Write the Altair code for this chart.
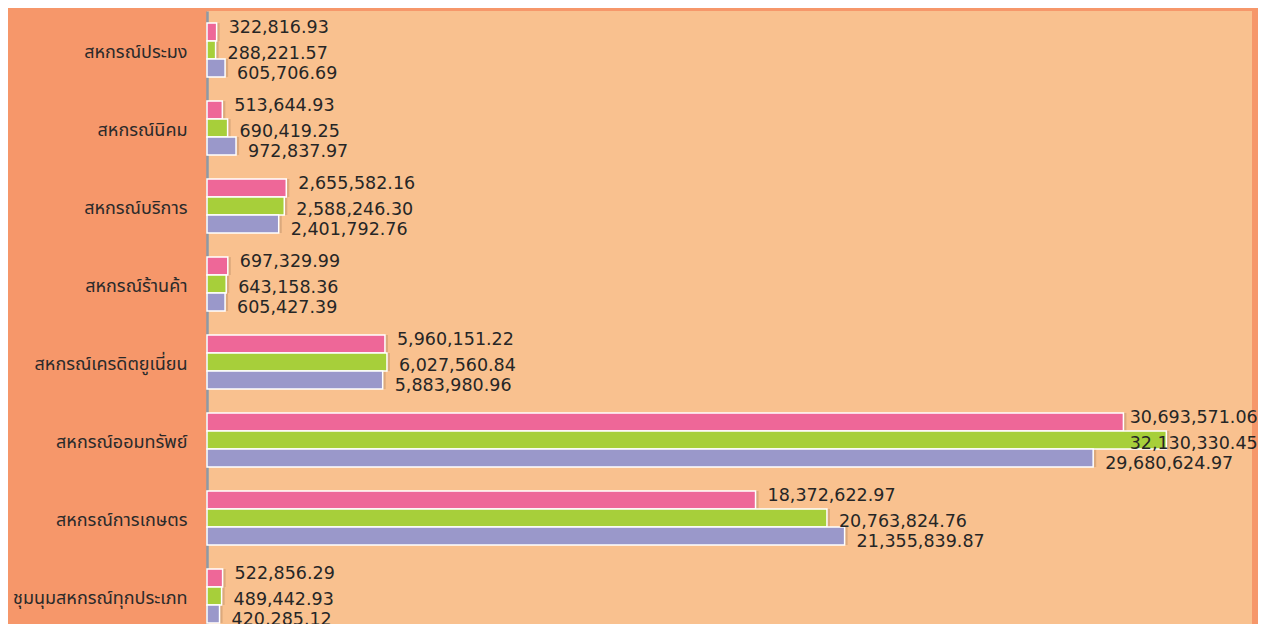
import altair as alt
import pandas as pd

categories = [
    "สหกรณ์ประมง",
    "สหกรณ์นิคม",
    "สหกรณ์บริการ",
    "สหกรณ์ร้านค้า",
    "สหกรณ์เครดิตยูเนี่ยน",
    "สหกรณ์ออมทรัพย์",
    "สหกรณ์การเกษตร",
    "ชุมนุมสหกรณ์ทุกประเภท",
]
series = ["ชุดที่ 1", "ชุดที่ 2", "ชุดที่ 3"]
pink_values = [322816.93, 513644.93, 2655582.16, 697329.99, 5960151.22, 30693571.06, 18372622.97, 522856.29]
green_values = [288221.57, 690419.25, 2588246.30, 643158.36, 6027560.84, 32130330.45, 20763824.76, 489442.93]
purple_values = [605706.69, 972837.97, 2401792.76, 605427.39, 5883980.96, 29680624.97, 21355839.87, 420285.12]
colors = ["#EE6798", "#A7CF3A", "#9A98CA"]

rows = []
for s, vals in zip(series, [pink_values, green_values, purple_values]):
    for c, v in zip(categories, vals):
        rows.append({"category": c, "series": s, "value": v})
df = pd.DataFrame(rows)

PLOT_W = 1045
PLOT_H = 613
STEP = 78
THAI_FONT = "Noto Sans Thai, Noto Sans, Loma, Garuda, sans-serif"
NUM_FONT = "DejaVu Sans"

y_enc = alt.Y(
    "category:N",
    sort=categories,
    title=None,
    scale=alt.Scale(range=[0, STEP * len(categories)], paddingInner=0.31, paddingOuter=0.155),
    axis=alt.Axis(
        domain=True,
        domainColor="#8D99A6",
        domainWidth=2.5,
        ticks=False,
        labelPadding=20,
        labelFont=THAI_FONT,
        labelFontSize=18,
        labelColor="#2A2A2A",
        labelOffset=3,
        grid=False,
    ),
)
yoff_enc = alt.YOffset("series:N", sort=series)
x_scale = alt.Scale(domain=[0, 35000000], nice=False, zero=True)

base = alt.Chart(df)

shadow = base.mark_bar(color="#6B4A30", opacity=0.2, xOffset=3, x2Offset=3).encode(
    y=y_enc,
    yOffset=yoff_enc,
    x=alt.X("value:Q", scale=x_scale, axis=None),
)

bars = base.mark_bar(stroke="white", strokeWidth=1.5).encode(
    y=y_enc,
    yOffset=yoff_enc,
    x=alt.X("value:Q", scale=x_scale, axis=None),
    color=alt.Color("series:N", sort=series, scale=alt.Scale(domain=series, range=colors), legend=None),
)

dys = [-4, 4, 6]
texts = []
for s, d in zip(series, dys):
    t = (
        base.transform_filter(alt.datum.series == s)
        .transform_calculate(lx="min(datum.value, 30500000)")
        .mark_text(align="left", baseline="middle", dx=12, dy=d, font=NUM_FONT, fontSize=17.5, color="#262626")
        .encode(
            y=y_enc,
            yOffset=yoff_enc,
            x=alt.X("lx:Q", scale=x_scale, axis=None),
            text=alt.Text("value:Q", format=",.2f"),
        )
    )
    texts.append(t)

chart = (
    alt.layer(shadow, bars, *texts)
    .properties(
        width=PLOT_W,
        height=PLOT_H,
        autosize=alt.AutoSizeParams(type="none"),
        padding={"left": 199, "top": 3, "right": 6, "bottom": 0},
    )
    .configure(background="#F6976A")
    .configure_view(fill="#F9C18F", stroke=None)
)

chart.save("out.html", embed_options={"renderer": "svg", "actions": False})
